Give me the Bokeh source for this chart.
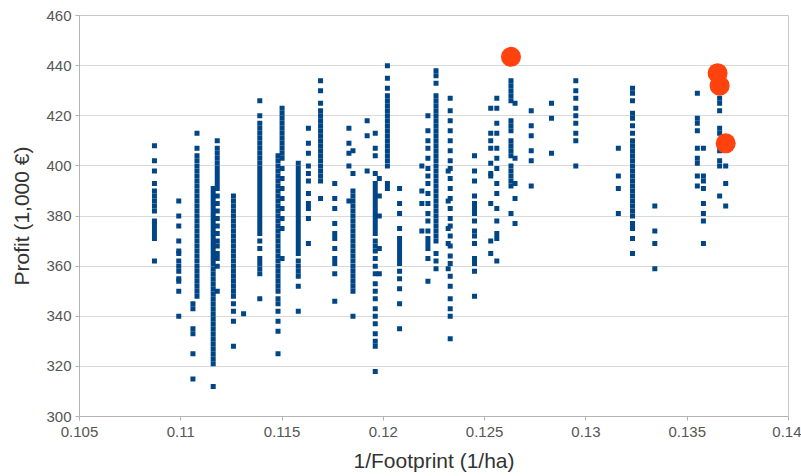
from bokeh.plotting import figure
from bokeh.models import FixedTicker, CustomJSTickFormatter, Range1d
from bokeh.embed import file_html
from bokeh.resources import INLINE

# ---- data: each column of solutions (x = 1/footprint) and its profits ----
col_x = [0.1087, 0.1099, 0.1106, 0.1108, 0.1116, 0.1118, 0.1126, 0.1131,
         0.1139, 0.1148, 0.1150, 0.1158, 0.1163, 0.1169, 0.1176, 0.1183,
         0.1185, 0.1192, 0.1196, 0.1198, 0.1202, 0.1208, 0.1219, 0.1222,
         0.1226, 0.1232, 0.1233, 0.1245, 0.1253, 0.1256, 0.1263, 0.1265,
         0.1273, 0.1283, 0.1295, 0.1316, 0.1323, 0.1334, 0.1355, 0.1358,
         0.1366, 0.1369]
col_y = [
    [408, 402, 398, 393, 390, 388, 386, 384, 382, 378, 377, 375, 373, 371, 362],
    [386, 380, 376, 370, 366, 365, 362, 360, 358, 355, 354, 350, 340],
    [345, 343, 335, 333, 325, 315],
    [413, 407, 404, 402, 400, 398, 396, 394, 392, 390, 388, 386, 384, 382, 380, 378,
     376, 374, 372, 370, 368, 366, 364, 362, 360, 358, 356, 354, 352, 350, 348],
    [391, 389, 387, 385, 383, 381, 379, 377, 375, 373, 371, 369, 367, 365, 363, 361,
     359, 357, 355, 353, 351, 349, 347, 345, 343, 341, 339, 337, 335, 333, 331, 329,
     327, 325, 323, 321, 312],
    [410, 407, 405, 403, 401, 399, 397, 395, 393, 391, 388, 385, 382, 379, 376, 373,
     370, 368, 365, 363, 360, 350],
    [388, 386, 384, 382, 380, 378, 376, 374, 372, 370, 368, 366, 364, 362, 360, 358,
     356, 354, 352, 350, 348, 345, 342, 338, 328],
    [341],
    [426, 420, 417, 415, 413, 411, 409, 407, 405, 403, 401, 399, 397, 395, 393, 391,
     389, 387, 385, 383, 381, 379, 377, 375, 373, 370, 367, 363, 361, 359, 357, 347],
    [404, 402, 400, 398, 396, 394, 392, 390, 388, 386, 384, 382, 380, 378, 376, 374,
     372, 370, 368, 366, 364, 362, 360, 358, 356, 354, 352, 350, 347, 345, 342, 338,
     334, 325],
    [423, 421, 419, 417, 415, 413, 411, 409, 407, 405, 403, 399, 395, 391, 387, 383,
     379, 375, 363],
    [401, 399, 397, 395, 393, 391, 389, 387, 385, 383, 381, 379, 377, 375, 373, 371,
     369, 367, 365, 362, 360, 358, 356, 352, 342],
    [415, 409, 405, 400, 397, 394, 389, 385, 383, 379, 369],
    [434, 430, 425, 422, 420, 418, 416, 414, 412, 410, 408, 406, 404, 402, 400, 398,
     396, 394, 387],
    [393, 387, 383, 377, 373, 371, 367, 363, 361, 357, 346],
    [415, 409, 405, 400, 386],
    [406, 397, 390, 388, 386, 384, 382, 380, 378, 376, 374, 372, 370, 368, 366, 364,
     362, 360, 358, 356, 354, 352, 350, 340],
    [418, 412, 398],
    [413, 407, 404, 397, 393, 391, 389, 387, 385, 383, 381, 379, 377, 375, 373, 370,
     368, 366, 363, 360, 357, 353, 350, 347, 343, 340, 337, 333, 330, 328, 318],
    [395, 388, 380, 367, 357],
    [440, 435, 431, 428, 426, 424, 422, 420, 418, 416, 414, 412, 410, 408, 406, 404,
     402, 400, 393, 391],
    [391, 385, 381, 375, 371, 369, 367, 365, 363, 361, 358, 355, 351, 345, 335],
    [400, 390, 385, 374],
    [420, 414, 410, 407, 403, 399, 396, 393, 389, 385, 381, 378, 374, 371, 369, 367,
     363, 354],
    [438, 436, 433, 428, 426, 424, 422, 420, 418, 416, 414, 412, 410, 408, 406, 404,
     402, 400, 398, 396, 394, 392, 390, 388, 386, 384, 382, 380, 378, 376, 374, 372,
     370, 365, 362, 359],
    [398, 386, 375, 369, 359],
    [427, 422, 418, 414, 410, 406, 402, 399, 395, 391, 387, 383, 379, 376, 372, 368,
     364, 361, 356, 352, 347, 343, 340, 331],
    [404, 398, 394, 388, 385, 383, 381, 378, 374, 372, 369, 363, 361, 358, 348],
    [423, 413, 410, 407, 401, 397, 396, 385, 370, 365],
    [427, 423, 417, 413, 407, 403, 399, 393, 389, 383, 378, 373, 371, 362],
    [434, 432, 430, 428, 426, 418, 416, 414, 410, 408, 406, 404, 400, 398, 396, 394,
     392, 381],
    [425, 403, 393, 387, 377],
    [422, 416, 412, 406, 402, 392],
    [425, 419, 405],
    [434, 430, 427, 423, 420, 417, 413, 410, 400],
    [407, 396, 391, 381],
    [431, 429, 426, 421, 419, 416, 413, 410, 408, 406, 404, 402, 400, 398, 396, 394,
     392, 390, 388, 386, 384, 382, 380, 377, 375, 371, 365],
    [384, 374, 369, 359],
    [429, 419, 417, 414, 407, 403, 401, 396, 392],
    [407, 396, 394, 391, 385, 381, 378, 369],
    [427, 425, 422, 415, 413, 406, 402, 400, 388],
    [400, 393, 384],
]

best_x = [0.1263, 0.1365, 0.1366, 0.1369]
best_y = [443.5, 437, 432, 409]

x_ticks = [0.105, 0.11, 0.115, 0.12, 0.125, 0.13, 0.135, 0.14]
y_ticks = [300, 320, 340, 360, 380, 400, 420, 440, 460]

# expand columns into point lists
xs, ys = [], []
for cx, cys in zip(col_x, col_y):
    for v in cys:
        xs.append(cx)
        ys.append(v)

FONT = "Liberation Sans"

p = figure(width=801, height=476, output_backend="svg", toolbar_location=None,
           x_range=Range1d(0.105, 0.14), y_range=Range1d(300, 460),
           min_border_left=79, min_border_right=13, min_border_top=15,
           min_border_bottom=60)

p.scatter(xs, ys, marker="square", size=5, color="#004586", line_color=None)
p.scatter(best_x, best_y, marker="circle", size=20, color="#ff420e", line_color=None)

p.xaxis.ticker = FixedTicker(ticks=x_ticks)
p.yaxis.ticker = FixedTicker(ticks=y_ticks)
p.xaxis.formatter = CustomJSTickFormatter(code="return tick.toFixed(3).replace(/0+$/, '');")

p.xaxis.axis_label = "1/Footprint (1/ha)"
p.yaxis.axis_label = "Profit (1,000 €)"

for ax in (p.xaxis, p.yaxis):
    ax.axis_line_color = "#b3b3b3"
    ax.major_tick_line_color = "#b3b3b3"
    ax.minor_tick_line_color = None
    ax.major_tick_in = 0
    ax.major_tick_out = 4
    ax.major_label_text_font = FONT
    ax.major_label_text_font_size = "15px"
    ax.major_label_text_color = "#555555"
    ax.axis_label_text_font = FONT
    ax.axis_label_text_font_size = "21px"
    ax.axis_label_text_font_style = "normal"
    ax.axis_label_text_color = "#333333"

p.xaxis.major_label_standoff = 6
p.xaxis.axis_label_standoff = 9
p.yaxis.major_label_standoff = 4
p.yaxis.axis_label_standoff = 10

p.xgrid.grid_line_color = None
p.ygrid.grid_line_color = "#d9d9d9"
p.ygrid.grid_line_width = 1

p.outline_line_color = "#c8c8c8"
p.background_fill_color = "white"
p.border_fill_color = "white"

open("out.html", "w").write(file_html(p, INLINE))
